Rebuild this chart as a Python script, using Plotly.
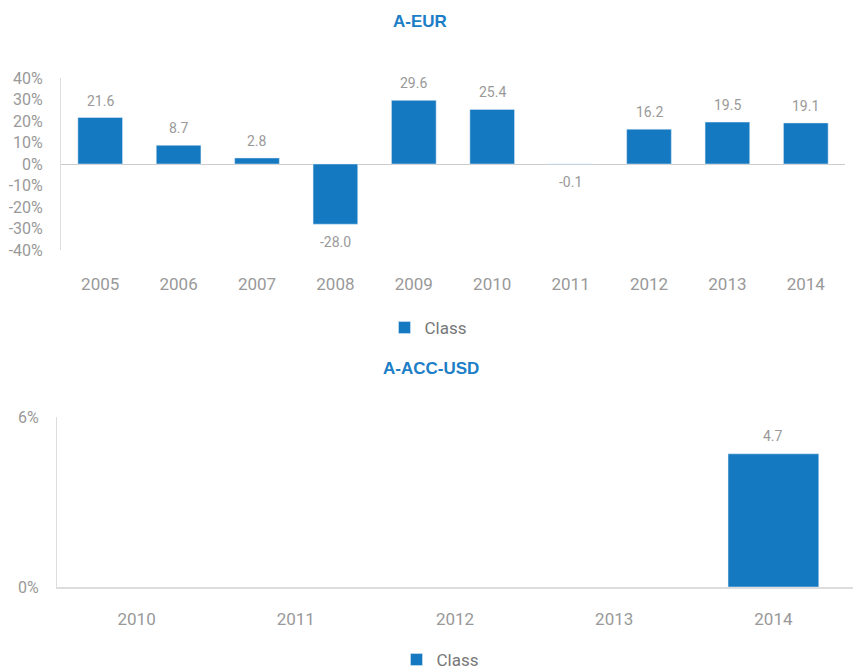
import plotly.graph_objects as go

# Data
eur_years = ["2005", "2006", "2007", "2008", "2009", "2010", "2011", "2012", "2013", "2014"]
eur_values = [21.6, 8.7, 2.8, -28.0, 29.6, 25.4, -0.1, 16.2, 19.5, 19.1]
usd_years = ["2010", "2011", "2012", "2013", "2014"]
usd_values = [None, None, None, None, 4.7]
eur_ticks = [-40, -30, -20, -10, 0, 10, 20, 30, 40]
usd_ticks = [0, 6]
series_name = "Class"
title_top = "A-EUR"
title_bottom = "A-ACC-USD"

BAR = "#1479c0"
GREY = "#999999"
AXIS = "#dddddd"
FONT = "Roboto, Lato, sans-serif"
W, H = 853, 672

def fy(y):
    return 1 - y / H

def fx(x):
    return x / W

fig = go.Figure()
fig.add_trace(go.Bar(x=eur_years, y=eur_values, name=series_name, marker_color=BAR,
                     xaxis="x", yaxis="y", legend="legend", hoverinfo="x+y"))
fig.add_trace(go.Bar(x=usd_years, y=usd_values, name=series_name, marker_color=BAR,
                     xaxis="x2", yaxis="y2", legend="legend2", hoverinfo="x+y"))

annotations = []
# category axes: annotation x given as category index
for i, v in enumerate(eur_values):
    annotations.append(dict(x=i, y=v, xref="x", yref="y", text=f"{v:.1f}", showarrow=False,
                            yanchor="bottom" if v >= 0 else "top", yshift=7 if v >= 0 else -8,
                            font=dict(family=FONT, size=14, color=GREY)))
for i, v in enumerate(usd_values):
    if v is None:
        continue
    annotations.append(dict(x=i, y=v, xref="x2", yref="y2", text=f"{v:.1f}", showarrow=False,
                            yanchor="bottom", yshift=8,
                            font=dict(family=FONT, size=14, color=GREY)))

annotations.append(dict(x=fx(420), y=fy(22), xref="paper", yref="paper", text=f"<b>{title_top}</b>",
                        showarrow=False, yanchor="middle", xanchor="center",
                        font=dict(family="Liberation Sans, Arial", size=17, color="#1c7ec6")))
annotations.append(dict(x=fx(431), y=fy(368), xref="paper", yref="paper", text=f"<b>{title_bottom}</b>",
                        showarrow=False, yanchor="middle", xanchor="center",
                        font=dict(family="Liberation Sans, Arial", size=17, color="#1c7ec6")))

xtickfont = dict(family=FONT, size=17, color=GREY)
ytickfont = dict(family=FONT, size=16, color=GREY)

fig.update_layout(
    width=W, height=H,
    margin=dict(l=0, r=0, t=0, b=0, autoexpand=False),
    paper_bgcolor="white", plot_bgcolor="white",
    bargap=0.43,
    annotations=annotations,
    xaxis=dict(type="category", automargin=False, domain=[fx(61), fx(845)], anchor="y",
               showgrid=False, showline=False, range=[-0.5, len(eur_years) - 0.5],
               ticks="outside", ticklen=19, tickcolor="rgba(0,0,0,0)", tickfont=xtickfont),
    yaxis=dict(automargin=False, domain=[fy(250), fy(78)], anchor="x", range=[-40, 40],
               tickvals=eur_ticks, ticktext=[f"{t}%" for t in eur_ticks],
               showgrid=False, showline=True, linecolor=AXIS, linewidth=1,
               zeroline=True, zerolinecolor="#cccccc", zerolinewidth=1, tickfont=ytickfont,
               ticks="outside", ticklen=14, tickcolor="rgba(0,0,0,0)"),
    xaxis2=dict(type="category", automargin=False, domain=[fx(57), 1.0], anchor="y2",
                range=[-0.5, len(usd_years) - 0.5],
                showgrid=False, showline=True, linecolor=AXIS, linewidth=2, ticks="outside",
                ticklen=16, tickcolor="rgba(0,0,0,0)", tickfont=xtickfont),
    yaxis2=dict(automargin=False, domain=[fy(587), fy(417)], anchor="x2", range=[0, 6],
                tickvals=usd_ticks, ticktext=[f"{t}%" for t in usd_ticks],
                showgrid=False, showline=True, linecolor=AXIS, linewidth=1,
                zeroline=False, tickfont=ytickfont, ticks="outside", ticklen=14,
                tickcolor="rgba(0,0,0,0)"),
    legend=dict(x=fx(428), y=fy(328), xanchor="center", yanchor="middle", orientation="h",
                font=dict(family=FONT, size=17, color="#777777"), itemwidth=30),
    legend2=dict(x=fx(440), y=fy(660), xanchor="center", yanchor="middle", orientation="h",
                 font=dict(family=FONT, size=17, color="#777777"), itemwidth=30),
    showlegend=True,
)

fig.write_html("out.html", config={"displayModeBar": False},
               post_script="document.body.style.margin='0';document.body.style.overflow='hidden';")
